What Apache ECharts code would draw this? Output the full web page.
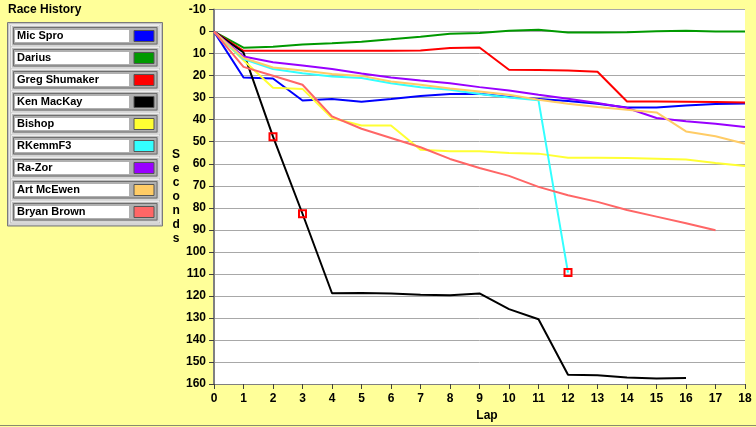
<!DOCTYPE html>
<html><head><meta charset="utf-8">
<script src="https://cdn.jsdelivr.net/npm/echarts@6/dist/echarts.min.js"></script>
<style>html,body{margin:0;padding:0;background:#FFFF99;}#c{width:756px;height:427px;}</style>
</head><body><div id="c"></div>
<script>
const laps = [0,1,2,3,4,5,6,7,8,9,10,11,12,13,14,15,16,17,18];
const drivers = ['Mic Spro','Darius','Greg Shumaker','Ken MacKay','Bishop','RKemmF3','Ra-Zor','Art McEwen','Bryan Brown'];
const driverColors = ['#0000FF','#009900','#FF0000','#000000','#FFFF33','#33FFFF','#9900FF','#FFCC66','#FF6666'];

const micSpro      = [0,20.8,21.3,31.3,30.6,31.8,30.6,29.2,28.3,28.2,29.7,30.6,31.5,32.8,34.4,34.4,33.5,32.9,32.6];
const darius       = [0,7.3,6.9,5.8,5.3,4.6,3.5,2.3,1.0,0.6,-0.4,-0.8,0.4,0.4,0.3,-0.2,-0.4,0,0];
const gregShumaker = [0,8.7,8.7,8.7,8.7,8.7,8.7,8.6,7.4,7.2,17.3,17.4,17.7,18.2,31.7,31.7,31.8,32,32.2];
const kenMacKay    = [0,9.5,47.7,82.7,118.8,118.7,118.9,119.5,119.7,118.9,126,130.6,155.8,156,157,157.5,157.3,null,null];
const bishop       = [0,13,25.5,26,39.2,42.6,42.6,53.6,54.3,54.3,55.1,55.4,57.3,57.3,57.4,57.7,58.1,59.6,61];
const rKemmF3      = [0,12.5,17,18.9,20.4,21.1,23.4,25.3,26.4,28.3,29.9,31.2,109.4,null,null,null,null,null,null];
const raZor        = [0,11.3,13.9,15.4,17,19,20.8,22.2,23.4,25.2,26.7,28.7,30.5,32.4,34.7,39.2,40.7,41.8,43.3];
const artMcEwen    = [0,12,16.3,17.6,19.2,20.1,22.6,24.1,25.8,27.2,28.7,30.9,32.7,34.2,35.5,36.7,45.3,47.5,50.9];
const bryanBrown   = [0,16,20,24.1,38.5,44.1,48.3,52.5,57.8,61.9,65.5,70.5,74.3,77.3,81,84,87,90.2,null];

const kenMarkLaps = [2,3];
const rKemmMarkLaps = [12];

const allValues = [micSpro,darius,gregShumaker,kenMacKay,bishop,rKemmF3,raZor,artMcEwen,bryanBrown];
const markLaps = [[],[],[],kenMarkLaps,[],rKemmMarkLaps,[],[],[]];

const FONT = 'Liberation Sans';

const series = drivers.map((name, k) => ({
  name: name,
  type: 'line',
  symbol: 'none',
  showSymbol: true,
  silent: true,
  color: driverColors[k],
  lineStyle: { width: 2, color: driverColors[k] },
  data: laps.map((lap, i) => {
    const v = allValues[k][i];
    if (v === null || v === undefined) return [lap, null];
    if (markLaps[k].includes(lap)) {
      return { value: [lap, v], symbol: 'rect', symbolSize: 7,
        itemStyle: { color: 'rgba(0,0,0,0)', borderColor: '#FF0000', borderWidth: 2 } };
    }
    return [lap, v];
  }),
  z: 2 + k
}));

// decorative legend panel frames
const frameGraphics = [
  { type: 'rect', shape: { x: 7.5, y: 22.5, width: 155, height: 203.5 },
    style: { fill: '#C4C4C4', stroke: '#7A7A7A', lineWidth: 1 }, z: -10 },
  { type: 'rect', shape: { x: 9.5, y: 24.5, width: 151, height: 199.5 },
    style: { fill: 'none', stroke: '#E6E6E6', lineWidth: 1 }, z: -10 }
];
drivers.forEach((d, i) => {
  const y0 = 25.5 + 22 * i;
  frameGraphics.push({ type: 'rect', shape: { x: 11.5, y: y0, width: 147.5, height: 20.5 },
    style: { fill: '#BDBDBD', stroke: '#EDEDED', lineWidth: 1 }, z: -9 });
  frameGraphics.push({ type: 'rect', shape: { x: 13.5, y: y0 + 2, width: 143.5, height: 16.5 },
    style: { fill: '#B0B0B0', stroke: '#6E6E6E', lineWidth: 1 }, z: -9 });
});
frameGraphics.push({ type: 'line', shape: { x1: 0, y1: 425.5, x2: 756, y2: 425.5 },
  style: { stroke: '#8A8A70', lineWidth: 1 }, z: -10 });

const chart = echarts.init(document.getElementById('c'), null, { renderer: 'canvas' });
chart.setOption({
  backgroundColor: '#FFFF99',
  animation: false,
  title: { text: 'Race History', left: 8, top: 4, padding: 0,
    textStyle: { fontFamily: FONT, fontWeight: 'bold', fontSize: 12, color: '#000' } },
  legend: {
    orient: 'vertical', left: 15, top: 30, padding: 0, itemGap: 10,
    align: 'right', icon: 'rect', itemWidth: 20, itemHeight: 11,
    selectedMode: false,
    itemStyle: { borderColor: '#555555', borderWidth: 1 },
    formatter: '{n|{name}}',
    textStyle: { fontFamily: FONT, fontWeight: 'bold', fontSize: 11, color: '#000',
      rich: { n: { fontFamily: FONT, fontWeight: 'bold', fontSize: 11, color: '#000',
        width: 112, height: 12, lineHeight: 12, padding: [0, 0, 0, 2], align: 'left',
        backgroundColor: '#FFFFFF' } } },
    data: drivers
  },
  graphic: frameGraphics,
  grid: { left: 214, right: 11, top: 9.6, bottom: 42, containLabel: false,
    show: true, backgroundColor: '#FFFFFF', borderWidth: 0 },
  xAxis: {
    type: 'value', min: 0, max: 18, interval: 1,
    name: 'Lap', nameLocation: 'middle', nameGap: 26,
    nameTextStyle: { fontFamily: FONT, fontWeight: 'bold', fontSize: 12, color: '#000', padding: [0, 0, 0, 15] },
    axisLine: { show: true, onZero: false, lineStyle: { color: '#808080', width: 1 } },
    axisTick: { show: true, length: 5, lineStyle: { color: '#404040' } },
    axisLabel: { margin: 9, fontFamily: FONT, fontWeight: 'bold', fontSize: 12, color: '#000' },
    splitLine: { show: false }
  },
  yAxis: {
    type: 'value', inverse: true, min: -10, max: 160, interval: 10,
    name: 'S\ne\nc\no\nn\nd\ns', nameLocation: 'middle', nameRotate: 0, nameGap: 37,
    nameTextStyle: { fontFamily: FONT, fontWeight: 'bold', fontSize: 12, color: '#000', lineHeight: 14, align: 'center' },
    axisLine: { show: true, lineStyle: { color: '#808080', width: 2 } },
    axisTick: { show: true, length: 5, lineStyle: { color: '#404040' } },
    axisLabel: { margin: 8, fontFamily: FONT, fontWeight: 'bold', fontSize: 12, color: '#000' },
    splitLine: { show: true, lineStyle: { color: '#A8A8A8', width: 1 } }
  },
  series: series
});
</script></body></html>
